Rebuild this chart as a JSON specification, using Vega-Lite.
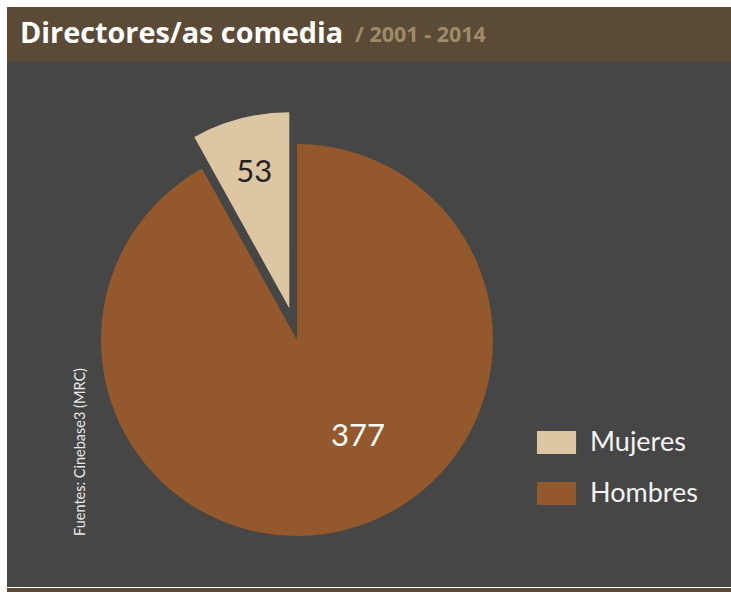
{
  "$schema": "https://vega.github.io/schema/vega-lite/v6.json",
  "background": "white",
  "padding": {"left": 7, "top": 7, "right": 0, "bottom": 0},
  "spacing": 0,
  "config": {
    "view": {"stroke": null},
    "concat": {"spacing": 0},
    "font": "Lato"
  },
  "vconcat": [
    {
      "hconcat": [
        {
          "width": 341,
          "height": 55,
          "view": {"fill": "#5a4a36", "stroke": null},
          "title": {"text": "Directores/as comedia", "anchor": "start", "orient": "top", "baseline": "alphabetic", "offset": -65, "dx": 13, "font": "Open Sans", "fontSize": 28.8, "fontWeight": "bold", "color": "#ffffff"},
          "data": {"values": [{}]},
          "mark": {"type": "point", "opacity": 0}
        },
        {
          "width": 383,
          "height": 55,
          "view": {"fill": "#5a4a36", "stroke": null},
          "title": {"text": "/ 2001 - 2014", "anchor": "start", "orient": "top", "baseline": "alphabetic", "offset": -56, "dx": 7, "font": "Open Sans", "fontSize": 21.5, "fontWeight": "bold", "color": "#a08a68"},
          "data": {"values": [{}]},
          "mark": {"type": "point", "opacity": 0}
        }
      ]
    },
    {
      "width": 724,
      "height": 525,
      "view": {"fill": "#464646", "stroke": null},
      "title": {"text": "Fuentes: Cinebase3 (MRC)", "orient": "left", "anchor": "start", "baseline": "alphabetic", "offset": -92, "dx": 51, "font": "Lato", "fontSize": 14.5, "fontWeight": "normal", "color": "#e6e6e6"},
      "data": {
        "values": [
          {"genero": "Mujeres", "n": 53},
          {"genero": "Hombres", "n": 377}
        ]
      },
      "encoding": {
        "theta": {"field": "n", "type": "quantitative", "stack": true, "scale": {"domain": [0, 377, 430], "range": [0, 5.777, 6.2832]}},
        "order": {"field": "genero", "type": "ordinal", "sort": "ascending"}
      },
      "layer": [
        {
          "mark": {"type": "arc", "radius": 196, "x": 290, "y": 278},
          "encoding": {
            "color": {
              "field": "genero", "type": "nominal",
              "scale": {"domain": ["Mujeres", "Hombres"], "range": ["#dcc7a2", "#93582c"]},
              "legend": {"title": null, "orient": "none", "legendX": 536, "legendY": 422, "symbolType": "M-1.7,-1H1.7V1H-1.7Z", "symbolSize": 529, "symbolStrokeWidth": 0, "symbolOpacity": 1, "labelFont": "Lato", "labelFontSize": 27, "labelColor": "#f2f2f2", "labelOffset": 20, "rowPadding": 23, "padding": 0}
            },
            "opacity": {"condition": {"test": "datum.genero === 'Hombres'", "value": 1}, "value": 0}
          }
        },
        {
          "mark": {"type": "arc", "radius": 196, "x": 282.3, "y": 246.3},
          "encoding": {
            "color": {"field": "genero", "type": "nominal"},
            "opacity": {"condition": {"test": "datum.genero === 'Mujeres'", "value": 1}, "value": 0}
          }
        },
        {
          "mark": {"type": "text", "radius": 140, "x": 282.3, "y": 246.3, "font": "Lato", "fontSize": 31, "color": "#222222", "align": "center", "baseline": "middle"},
          "encoding": {
            "text": {"field": "n", "type": "quantitative"},
            "detail": {"field": "genero", "type": "nominal"},
            "opacity": {"condition": {"test": "datum.genero === 'Mujeres'", "value": 1}, "value": 0}
          }
        },
        {
          "mark": {"type": "text", "radius": 100, "x": 290, "y": 278, "dx": 36, "font": "Lato", "fontSize": 31, "color": "#ffffff", "align": "center", "baseline": "middle"},
          "encoding": {
            "text": {"field": "n", "type": "quantitative"},
            "detail": {"field": "genero", "type": "nominal"},
            "opacity": {"condition": {"test": "datum.genero === 'Hombres'", "value": 1}, "value": 0}
          }
        }
      ]
    },
    {
      "width": 724,
      "height": 5,
      "view": {"fill": "#5a4a36", "stroke": null},
      "data": {"values": [{}]},
      "mark": {"type": "point", "opacity": 0}
    }
  ]
}
